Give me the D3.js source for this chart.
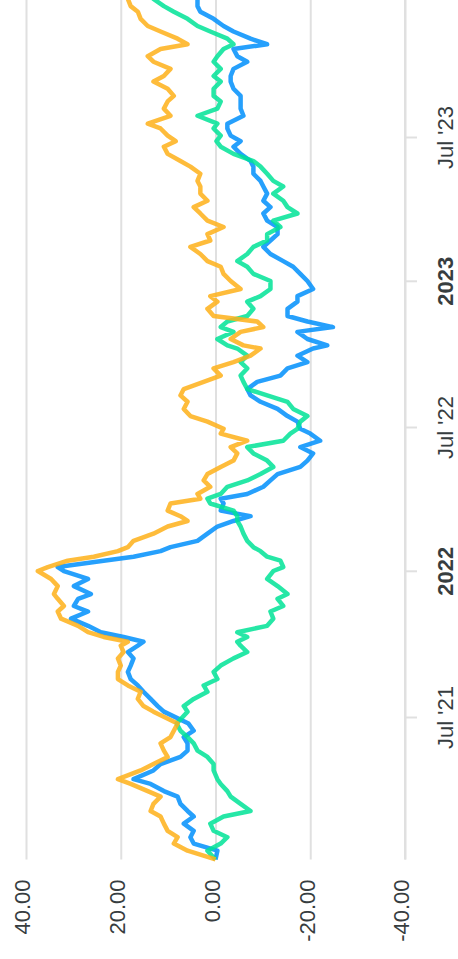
<!DOCTYPE html>
<html>
<head>
<meta charset="utf-8">
<script src="https://cdn.jsdelivr.net/npm/d3@7"></script>
<style>
html,body{margin:0;padding:0;background:#fff;overflow:hidden;}
svg{display:block;}
</style>
</head>
<body>
<div id="chart"></div>
<script>
const dates = ["2021-01-04","2021-01-15","2021-01-24","2021-02-01","2021-02-09","2021-02-18","2021-02-27","2021-03-06","2021-03-15","2021-03-24","2021-03-31","2021-04-09","2021-04-15","2021-04-26","2021-05-04","2021-05-13","2021-05-21","2021-05-30","2021-06-07","2021-06-15","2021-06-24","2021-07-09","2021-07-16","2021-07-25","2021-08-03","2021-08-11","2021-08-19","2021-08-28","2021-09-05","2021-09-14","2021-09-22","2021-09-30","2021-10-05","2021-10-11","2021-10-17","2021-10-25","2021-11-03","2021-11-12","2021-11-19","2021-11-28","2021-12-04","2021-12-14","2021-12-23","2022-01-02","2022-01-07","2022-01-15","2022-01-20","2022-01-27","2022-02-01","2022-02-09","2022-02-18","2022-02-27","2022-03-06","2022-03-12","2022-03-19","2022-03-28","2022-04-03","2022-04-09","2022-04-18","2022-04-26","2022-05-04","2022-05-13","2022-05-21","2022-05-30","2022-06-07","2022-06-15","2022-06-24","2022-06-30","2022-07-09","2022-07-16","2022-07-25","2022-08-03","2022-08-11","2022-08-19","2022-08-28","2022-09-05","2022-09-14","2022-09-22","2022-09-30","2022-10-09","2022-10-13","2022-10-21","2022-10-30","2022-11-05","2022-11-12","2022-11-19","2022-11-28","2022-12-07","2022-12-14","2022-12-23","2023-01-02","2023-01-11","2023-01-20","2023-01-27","2023-02-05","2023-02-14","2023-02-22","2023-03-02","2023-03-11","2023-03-19","2023-03-28","2023-04-05","2023-04-13","2023-04-22","2023-05-01","2023-05-08","2023-05-17","2023-05-26","2023-06-02","2023-06-11","2023-06-20","2023-06-27","2023-07-04","2023-07-13","2023-07-19","2023-07-29","2023-08-07","2023-08-16","2023-08-23","2023-09-01","2023-09-10","2023-09-17","2023-09-26","2023-10-05","2023-10-12","2023-10-21","2023-10-27","2023-11-03","2023-11-12","2023-11-19","2023-11-28","2023-12-07","2023-12-14","2023-12-23","2023-12-31"];

const seriesBlue = [0,-0.4,4.6,5.3,4.6,6.7,4.6,5.9,7.4,8.0,10.9,13.7,17.3,13.1,11.6,7.4,5.9,5.9,6.7,4.6,5.7,10.9,12.2,13.7,15.2,16.4,17.9,18.5,17.9,17.3,18.5,16.4,15.2,19.4,24.2,26.9,30.5,26.9,29.9,29.0,26.3,29.9,26.9,32.0,33.3,23.6,17.3,11.6,9.5,3.8,1.7,-0.4,-3.8,-7.4,-1.1,-1.7,-1.1,-6.7,-10.1,-11.6,-13.1,-17.9,-19.4,-20.6,-17.9,-22.1,-20.0,-17.9,-17.3,-15.2,-13.1,-9.5,-7.4,-6.7,-8.8,-13.7,-15.2,-19.4,-17.3,-20.6,-23.6,-19.4,-17.3,-24.8,-19.4,-15.2,-15.2,-17.3,-17.3,-20.6,-19.4,-17.9,-16.4,-14.3,-11.6,-10.1,-11.6,-13.1,-13.1,-10.9,-10.1,-11.6,-10.1,-10.9,-10.1,-9.5,-8.0,-8.0,-7.4,-5.3,-3.8,-5.3,-3.2,-2.5,-2.5,-5.9,-5.3,-5.3,-5.3,-3.8,-3.2,-3.2,-3.8,-6.7,-4.6,-3.8,-10.9,-7.4,-3.8,-1.7,0.4,3.2,3.8,3.8,4.8];

const seriesGreen = [0,1.7,-1.1,-2.5,0.4,1.1,-1.7,-7.4,-5.3,-3.2,-2.5,-1.1,-0.4,0.4,0.4,1.7,3.8,4.6,5.9,7.4,8.2,5.9,6.7,4.6,1.7,2.5,-0.4,0.4,-1.1,-3.8,-6.7,-5.3,-4.6,-6.7,-4.6,-10.9,-12.2,-11.6,-14.3,-13.1,-15.2,-13.1,-10.9,-12.2,-14.3,-13.7,-10.9,-9.5,-8.0,-6.7,-5.9,-5.3,-4.6,-4.6,-3.8,1.1,1.7,-1.1,-2.5,-6.7,-9.5,-12.2,-10.9,-8.0,-6.7,-14.3,-15.8,-17.3,-17.9,-19.4,-16.4,-15.2,-10.9,-6.7,-5.9,-5.3,-6.7,-5.3,-6.7,-4.6,-2.5,-0.4,-3.8,-1.1,-2.5,-6.7,-8.0,-6.7,-9.5,-11.6,-11.6,-8.0,-6.7,-4.6,-6.7,-8.0,-10.9,-10.9,-13.7,-12.2,-17.3,-15.2,-14.3,-12.2,-14.3,-12.2,-10.9,-9.5,-8.0,-3.8,-1.1,-0.2,-1.1,0.4,-0.4,3.8,-0.4,-1.1,0.4,0.4,-1.1,0.4,-1.1,0.4,-0.4,-1.7,-3.8,-2.5,1.1,3.8,5.9,8.8,10.9,13.1,14.1];

const seriesOrange = [0,5.9,8.8,8.0,10.1,10.9,11.6,13.7,13.1,11.6,14.3,17.9,20.6,15.8,13.1,10.1,10.9,11.6,9.5,8.8,8.0,13.1,15.2,16.4,15.8,18.5,20.6,20.6,20.0,20.6,19.4,20.0,18.5,23.6,26.9,29.0,32.6,33.3,32.0,33.3,34.1,33.3,34.7,37.5,35.4,31.2,25.7,20.6,18.5,17.3,13.1,10.1,5.9,7.4,10.1,9.5,3.2,3.8,1.1,2.5,1.7,-1.1,-3.8,-4.6,-3.2,-6.7,-1.1,-1.7,1.7,5.3,6.7,5.9,7.4,6.7,2.5,-1.1,0.4,-3.8,-7.4,-9.5,-5.9,-3.2,-5.3,-10.1,-8.8,0.4,1.7,-0.4,1.1,-5.3,-3.2,-1.7,-1.1,1.7,3.2,5.3,1.1,1.7,-1.7,1.7,3.2,4.6,1.7,3.2,3.2,3.8,3.2,5.3,7.4,10.1,10.9,8.4,10.1,11.6,14.3,9.5,10.9,10.1,8.8,10.1,13.1,10.9,9.5,13.1,14.3,11.6,5.9,8.0,11.6,14.3,15.8,16.4,17.9,18.5,19.6];

const yTicks = [40, 20, 0, -20, -40];
const xTickDates = ["2021-07-01","2022-01-01","2022-07-01","2023-01-01","2023-07-01"];
const xTickLabels = ["Jul '21","2022","Jul '22","2023","Jul '23"];
const xTickBold = [false, true, false, true, false];

const seriesList = [
  {name: "Blue", values: seriesBlue, color: "#008FFB"},
  {name: "Green", values: seriesGreen, color: "#00E396"},
  {name: "Orange", values: seriesOrange, color: "#FEB019"}
];

const W = 959, H = 458;   // un-rotated chart frame
const parse = d3.utcParse("%Y-%m-%d");
const dateObjs = dates.map(parse);

const x = d3.scaleUtc()
  .domain([parse("2021-07-01"), parse("2023-07-01")])
  .range([241, 821]);
const y = d3.scaleLinear().domain([-40, 40]).range([405, 26]);

const fmt = d3.formatLocale({decimal: ".", thousands: ",", grouping: [3], currency: ["", ""], minus: "-"}).format(".2f");

const svg = d3.select("#chart").append("svg")
  .attr("width", 458).attr("height", 959);

const g = svg.append("g").attr("transform", "translate(0,959) rotate(-90)");

const plotLeft = x(dateObjs[0]);
const font = "'Liberation Sans', Arial, Helvetica, sans-serif";

// y axis + gridlines
const yAxis = g.append("g")
  .attr("transform", `translate(${plotLeft},0)`)
  .call(d3.axisLeft(y).tickValues(yTicks).tickFormat(fmt).tickSize(-(W + 20 - plotLeft)).tickPadding(20));
yAxis.select(".domain").remove();
yAxis.selectAll(".tick line").attr("stroke", "#e0e0e0").attr("stroke-width", 2);
yAxis.selectAll(".tick text")
  .attr("fill", "#373d3f").attr("font-family", font).attr("font-size", 22).attr("dy", "0.18em");

// x axis
const xAxis = g.append("g")
  .attr("transform", `translate(0,${y(-40)})`)
  .call(d3.axisBottom(x).tickValues(xTickDates.map(parse))
    .tickFormat((d, i) => xTickLabels[i]).tickSize(12).tickPadding(20).tickSizeOuter(0));
xAxis.select(".domain").attr("stroke", "#e0e0e0").attr("stroke-width", 2)
  .attr("d", `M${plotLeft},0H${W + 20}`);
xAxis.selectAll(".tick line").attr("stroke", "#e0e0e0").attr("stroke-width", 2);
xAxis.selectAll(".tick text")
  .attr("fill", "#373d3f").attr("font-family", font).attr("font-size", 22)
  .attr("font-weight", (d, i) => xTickBold[i] ? 700 : 400);

// lines
const line = d3.line()
  .x((d, i) => x(dateObjs[i]))
  .y(d => y(d));

g.append("g").selectAll("path.series")
  .data(seriesList)
  .join("path")
  .attr("class", "series")
  .attr("fill", "none")
  .attr("stroke", d => d.color)
  .attr("stroke-width", 4.5)
  .attr("stroke-linejoin", "round")
  .attr("stroke-linecap", "butt")
  .attr("opacity", 0.85)
  .attr("d", d => line(d.values));
</script>
</body>
</html>
